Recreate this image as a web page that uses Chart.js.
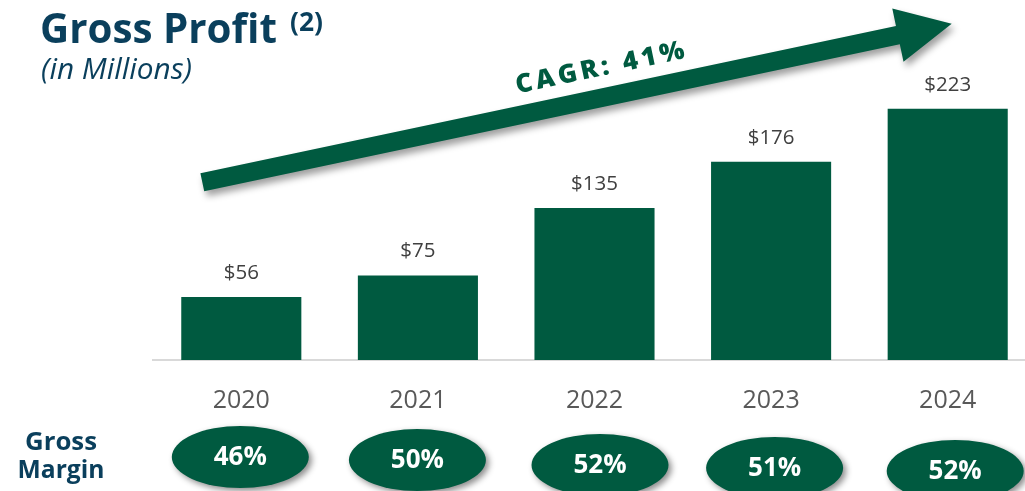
<!DOCTYPE html>
<html><head><meta charset="utf-8">
<script src="https://cdn.jsdelivr.net/npm/chart.js@4.4.1/dist/chart.umd.min.js"></script>
<style>
html,body{margin:0;padding:0;background:#fff;overflow:hidden;width:1025px;height:491px}
#wrap{position:relative;width:1036px;height:491px}
canvas{display:block}
</style></head>
<body><div id="wrap"><canvas id="c" width="1036" height="491" style="width:1036px;height:491px"></canvas></div>
<script>
// ---- data ----
const categories = ['2020', '2021', '2022', '2023', '2024'];
const grossProfit = [56, 75, 135, 176, 223];
const grossMargin = [46, 50, 52, 51, 52];
const titleText = 'Gross Profit';
const titleNote = '(2)';
const subtitleText = '(in Millions)';
const cagrText = 'CAGR: 41%';
const marginLabel = ['Gross', 'Margin'];

// ---- style ----
const GREEN = '#005a40';
const NAVY = '#0a3f5c';
const FAMILY = '"Open Sans", "DejaVu Sans", sans-serif';

function fitSize(ctx, text, weight, style, target) {
  ctx.font = `${style} ${weight} 100px ${FAMILY}`;
  return 100 * target / ctx.measureText(text).width;
}
function drawFit(ctx, text, weight, style, target, x, y, align) {
  const s = fitSize(ctx, text, weight, style, target);
  ctx.font = `${style} ${weight} ${s}px ${FAMILY}`;
  ctx.textAlign = align || 'left';
  ctx.textBaseline = 'alphabetic';
  ctx.fillText(text, x, y);
}

const decor = {
  id: 'decor',
  afterDraw(chart) {
    const ctx = chart.ctx;
    const meta = chart.getDatasetMeta(0);
    ctx.save();

    // value labels above bars
    ctx.fillStyle = '#404040';
    ctx.font = `400 20.5px ${FAMILY}`;
    ctx.textAlign = 'center';
    ctx.textBaseline = 'middle';
    meta.data.forEach((bar, i) => {
      ctx.fillText('$' + grossProfit[i], bar.x, bar.y - 24);
    });

    // titles
    ctx.fillStyle = NAVY;
    drawFit(ctx, titleText, 700, 'normal', 237, 40, 43);
    drawFit(ctx, titleNote, 700, 'normal', 33, 290, 31);
    drawFit(ctx, subtitleText, 400, 'italic', 151, 41, 79);
    drawFit(ctx, marginLabel[0], 700, 'normal', 72, 61, 450, 'center');
    drawFit(ctx, marginLabel[1], 700, 'normal', 87, 61, 478, 'center');

    // arrow
    const sx = 202.3, sy = 182.2, ex = 951.7, ey = 23.7;
    const ang = Math.atan2(ey - sy, ex - sx);
    const L = Math.hypot(ex - sx, ey - sy);
    const w = 18.5, hl = 55, hw = 27.2;
    ctx.save();
    ctx.translate(sx, sy);
    ctx.rotate(ang);
    ctx.shadowColor = 'rgba(0,0,0,0.38)';
    ctx.shadowBlur = 7;
    ctx.shadowOffsetX = 3;
    ctx.shadowOffsetY = 5;
    ctx.fillStyle = GREEN;
    ctx.beginPath();
    ctx.moveTo(0, -w / 2);
    ctx.lineTo(L - hl, -w / 2);
    ctx.lineTo(L - hl, -hw);
    ctx.lineTo(L, 0);
    ctx.lineTo(L - hl, hw);
    ctx.lineTo(L - hl, w / 2);
    ctx.lineTo(0, w / 2);
    ctx.closePath();
    ctx.fill();
    ctx.restore();

    // CAGR text, letter-spaced, rotated along arrow
    ctx.save();
    ctx.translate(600, 68.5);
    ctx.rotate(ang);
    ctx.fillStyle = GREEN;
    ctx.font = `800 26px ${FAMILY}`;
    ctx.textAlign = 'left';
    ctx.textBaseline = 'middle';
    const chars = cagrText.split('');
    const widths = chars.map(c => ctx.measureText(c).width);
    const total = 172;
    const sp = (total - widths.reduce((a, b) => a + b, 0)) / (chars.length - 1);
    let x = -total / 2;
    chars.forEach((c, i) => { ctx.fillText(c, x, 0); x += widths[i] + sp; });
    ctx.restore();

    // gross margin ellipses
    const offX = [-1, -0.5, 5.5, 3.5, 7.5];
    const cyArr = [457, 460, 465, 468, 471];
    meta.data.forEach((bar, i) => {
      const cx = bar.x + offX[i], cy = cyArr[i];
      ctx.save();
      ctx.shadowColor = 'rgba(0,0,0,0.45)';
      ctx.shadowBlur = 6;
      ctx.shadowOffsetX = 3;
      ctx.shadowOffsetY = 3;
      ctx.fillStyle = GREEN;
      ctx.beginPath();
      ctx.ellipse(cx, cy, 68.5, 31, 0, 0, Math.PI * 2);
      ctx.fill();
      ctx.restore();
      ctx.fillStyle = '#ffffff';
      ctx.font = `700 26px ${FAMILY}`;
      ctx.textAlign = 'center';
      ctx.textBaseline = 'middle';
      ctx.fillText(grossMargin[i] + '%', cx, cy + 1);
    });

    ctx.restore();
  }
};

new Chart(document.getElementById('c'), {
  type: 'bar',
  data: {
    labels: categories,
    datasets: [{
      data: grossProfit,
      backgroundColor: GREEN,
      borderWidth: 0,
      barPercentage: 0.68,
      categoryPercentage: 1
    }]
  },
  options: {
    responsive: false,
    animation: false,
    layout: { padding: { left: 153, top: 22, right: 0, bottom: 0 } },
    plugins: { legend: { display: false }, tooltip: { enabled: false }, title: { display: false } },
    scales: {
      x: {
        grid: { display: false, drawTicks: false },
        border: { display: true, color: '#d9d9d9', width: 2 },
        ticks: { color: '#595959', font: { family: FAMILY, size: 25 }, padding: 26 },
        afterFit(s) { s.height = 131; }
      },
      y: { display: false, min: 0, max: 300 }
    }
  },
  plugins: [decor]
});
</script>
</body></html>
